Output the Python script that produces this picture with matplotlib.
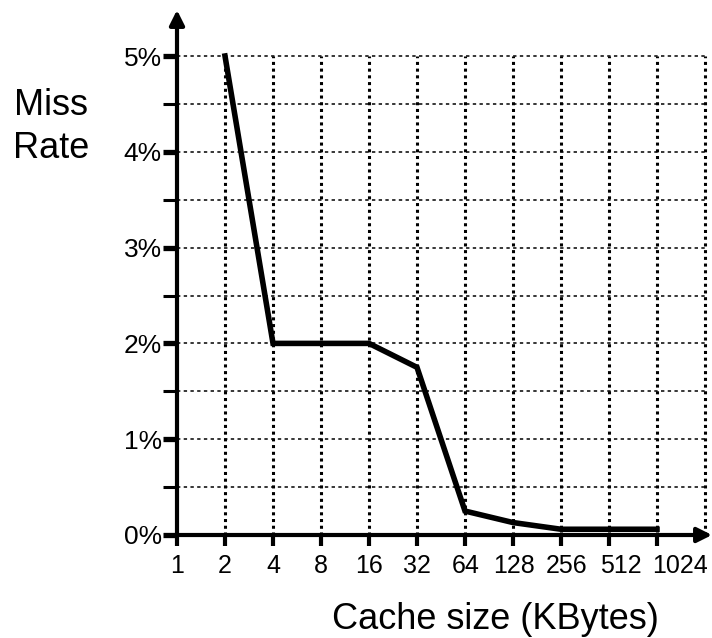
import numpy as np
import matplotlib.pyplot as plt

plt.rcParams['font.family'] = ['Liberation Sans', 'DejaVu Sans']

cache_sizes = ['1', '2', '4', '8', '16', '32', '64', '128', '256', '512', '1024']
miss_rate = [None, 5.0, 2.0, 2.0, 2.0, 1.75, 0.25, 0.13, 0.06, 0.06, 0.06]
y_ticks = [0, 1, 2, 3, 4, 5]
y_labels = ['0%', '1%', '2%', '3%', '4%', '5%']

# label shift (pixels) seen in the original for the crowded right-hand labels
label_shift = [0, 0, 0, 0, 0, 0, 1, 1, 6, 12, 23]

fig = plt.figure(figsize=(7.12, 6.38), dpi=100)
ax = fig.add_axes([177 / 712, (638 - 535) / 638, 535 / 712, 525 / 638])

x = np.arange(len(cache_sizes))
xs = [i for i, v in zip(x, miss_rate) if v is not None]
ys = [v for v in miss_rate if v is not None]

ax.set_xlim(0, 535 / 48)
ax.set_ylim(0, 525 / 95.8)

# grid
for gx in range(1, 12):
    ax.plot([gx, gx], [0, 5], color='black', lw=2.2, ls=(0, (1, 1.2)), zorder=1)
for gy in np.arange(0.5, 5.01, 0.5):
    ax.plot([0, 11], [gy, gy], color='black', lw=1.1, ls=(0, (2.2, 2.2)), zorder=1)

ax.plot(xs, ys, color='black', lw=4, solid_joinstyle='miter', zorder=3)

# axes with arrows
for s in ax.spines.values():
    s.set_visible(False)
ax.annotate('', xy=(535 / 48, 0), xytext=(0, 0), xycoords='data',
            arrowprops=dict(arrowstyle='-|>', lw=3, color='black', mutation_scale=22,
                            shrinkA=0, shrinkB=0), annotation_clip=False, zorder=4)
ax.annotate('', xy=(0, 525 / 95.8), xytext=(0, 0), xycoords='data',
            arrowprops=dict(arrowstyle='-|>', lw=3, color='black', mutation_scale=22,
                            shrinkA=0, shrinkB=0), annotation_clip=False, zorder=4)

ax.set_xticks(x)
ax.set_xticklabels([])
for xi, lab, dx in zip(x, cache_sizes, label_shift):
    ax.annotate(lab, xy=(xi, 0), xytext=(dx * 0.72, -14), textcoords='offset points',
                ha='center', va='top', fontsize=18, annotation_clip=False)
ax.set_yticks(y_ticks)
ax.set_yticklabels(y_labels, fontsize=19)
ax.set_yticks(np.arange(0.5, 5, 1), minor=True)
ax.tick_params(axis='x', direction='out', length=8, width=3)
ax.tick_params(axis='y', which='major', direction='out', length=10, width=3.8, pad=1)
ax.tick_params(axis='y', which='minor', direction='out', length=10, width=2.2)

fig.text(51 / 712, 1 - 115 / 638, 'Miss', fontsize=26, ha='center', va='baseline')
fig.text(51 / 712, 1 - 158 / 638, 'Rate', fontsize=26, ha='center', va='baseline')
fig.text(495 / 712, 1 - 629 / 638, 'Cache size (KBytes)', fontsize=26, ha='center', va='baseline')

fig.savefig('out.png', dpi=100)
